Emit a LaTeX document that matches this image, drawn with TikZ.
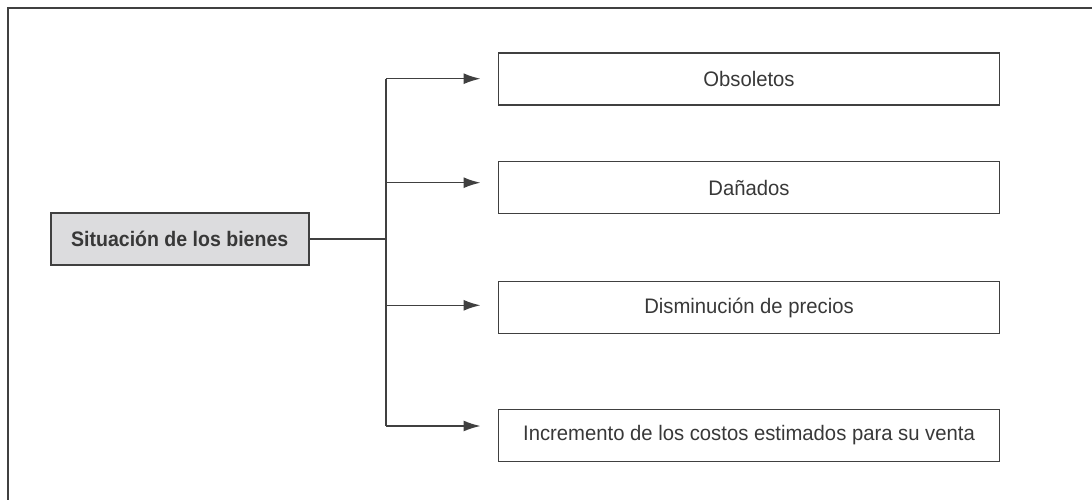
\documentclass[tikz,border=0pt]{standalone}
\usepackage{fontspec}
\usetikzlibrary{arrows.meta}
\newfontfamily\regfont{Liberation Sans}[FakeStretch=0.965]
\newfontfamily\boldfontx{Liberation Sans Bold}[FakeStretch=0.93]
\definecolor{ink}{HTML}{383838}
\definecolor{linec}{HTML}{404040}
\definecolor{boxgray}{HTML}{DCDCDE}
\tikzset{
  itembox/.style={draw=linec, line width=1.8pt, minimum width=501pt, minimum height=52pt,
    inner sep=0pt, text=ink, font=\regfont\fontsize{21}{25}\selectfont},
  mainbox/.style={draw=linec, line width=1.8pt, fill=boxgray, minimum width=258pt, minimum height=52pt,
    inner sep=0pt, text=ink, font=\boldfontx\fontsize{21}{25}\selectfont},
  conn/.style={draw=linec, line width=1.5pt},
  arr/.style={conn, -{Latex[length=17pt,width=11pt]}},
  frameline/.style={draw=linec, line width=2pt}
}
\begin{document}
\begin{tikzpicture}[x=1pt,y=-1pt]
\useasboundingbox (0,0) rectangle (1092,500);
% outer frame (open at right and bottom)
\draw[frameline] (8.4,500) -- (8.4,8.3) -- (1092,8.3);
% nodes
\node[mainbox] (src) at (179.7,238.8) {Situación de los bienes};
\node[itembox] (b1) at (749,78.7) {Obsoletos};
\node[itembox] (b2) at (749,187.5) {Dañados};
\node[itembox] (b3) at (749,307.5) {Disminución de precios};
\node[itembox] (b4) at (749,435.5) {Incremento de los costos estimados para su venta};
% coordinates
\coordinate (jn) at (385.8,238.8);
\coordinate (t1) at (385.8,78.7);
\coordinate (t2) at (385.8,182.7);
\coordinate (t3) at (385.8,305.3);
\coordinate (t4) at (385.8,426);
\coordinate (h1) at (480.5,78.7);
\coordinate (h2) at (480.5,182.7);
\coordinate (h3) at (480.5,305.3);
\coordinate (h4) at (480.5,426);
% connectors
\draw[conn] (src.east) -- (jn);
\draw[conn] (t1) -- (t4);
\draw[arr] (t1) -- (h1);
\draw[arr] (t2) -- (h2);
\draw[arr] (t3) -- (h3);
\draw[arr] (t4) -- (h4);
\end{tikzpicture}
\end{document}
